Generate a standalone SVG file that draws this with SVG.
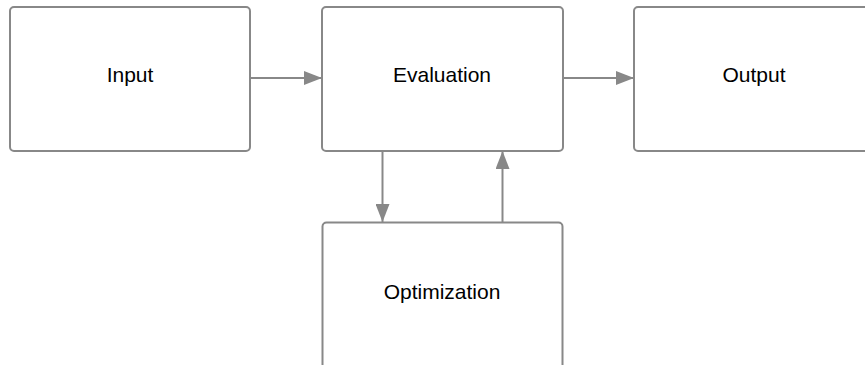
<svg xmlns="http://www.w3.org/2000/svg" width="865" height="365" viewBox="0 0 865 365">
<style>
.box{fill:#fff;stroke:#888;stroke-width:2}
.lbl{font-family:"Liberation Sans",Arial,sans-serif;font-size:21px;fill:#000;text-anchor:middle}
.edge{stroke:#888;stroke-width:2;fill:none}
</style>
<defs>
<marker id="ah" viewBox="0 0 18 14" refX="18" refY="7" markerWidth="18" markerHeight="14" markerUnits="userSpaceOnUse" orient="auto">
<path d="M0,0 L18,7 L0,14 Z" fill="#888"/>
</marker>
</defs>
<rect width="865" height="365" fill="#fff"/>
<g id="input"><rect class="box" x="10" y="7" width="240" height="144" rx="4"/><text class="lbl" x="130" y="82">Input</text></g>
<g id="evaluation"><rect class="box" x="322" y="7" width="241" height="144" rx="4"/><text class="lbl" x="442" y="82">Evaluation</text></g>
<g id="output"><rect class="box" x="634" y="7" width="240" height="144" rx="4"/><text class="lbl" x="754" y="82">Output</text></g>
<g id="optimization"><rect class="box" x="322.5" y="222.5" width="240" height="160" rx="4"/><text class="lbl" x="442" y="299">Optimization</text></g>
<g id="connectors">
<line class="edge" x1="251" y1="78" x2="322" y2="78" marker-end="url(#ah)"/>
<line class="edge" x1="564" y1="78" x2="634" y2="78" marker-end="url(#ah)"/>
<line class="edge" x1="382.5" y1="152" x2="382.5" y2="222" marker-end="url(#ah)"/>
<line class="edge" x1="502.5" y1="222" x2="502.5" y2="151" marker-end="url(#ah)"/>
</g>
</svg>
